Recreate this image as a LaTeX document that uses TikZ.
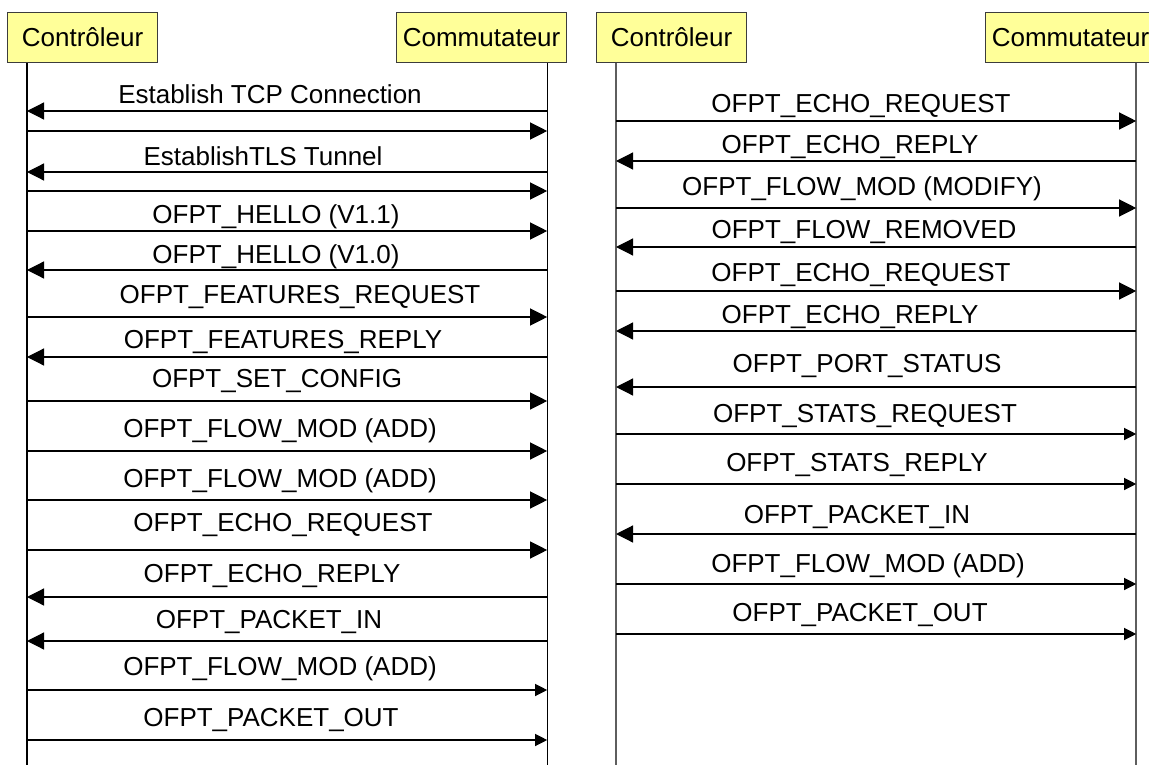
\documentclass[tikz,border=0pt]{standalone}
\usepackage{fontspec}
\setmainfont{Liberation Sans}
\usetikzlibrary{arrows.meta,positioning,calc}
\definecolor{SeqYellow}{HTML}{FFFF99}
\definecolor{SeqBorder}{HTML}{3C3C3C}
\definecolor{SeqGray}  {HTML}{5E5E5E}

\tikzset{
  actor/.style={draw=SeqBorder,fill=SeqYellow,line width=1.2pt,minimum height=50pt,
    inner sep=0pt,anchor=north west,font=\fontsize{26}{30}\selectfont},
  lifeline/.style={line width=1.3pt},
  msg/.style={line width=1.2pt},
  msgtxt/.style={font=\fontsize{26}{30}\selectfont,inner sep=0pt,anchor=base},
  bigtip/.style={-{Triangle[length=17pt,width=17pt]}},
  smalltip/.style={-{Triangle[length=12pt,width=12pt]}},
}

\begin{document}
\begin{tikzpicture}[x=1pt,y=-1pt]
    \useasboundingbox (0,0) rectangle (1149,765);
    % participants
    \node[actor,minimum width=150pt] (ctrlA) at (7,12) {Contrôleur};
    \node[actor,minimum width=170pt] (switchA) at (396,12) {Commutateur};
    \node[actor,minimum width=150pt] (ctrlB) at (596,12) {Contrôleur};
    \node[actor,minimum width=170pt] (switchB) at (985,12) {Commutateur};
    % lifelines
    \coordinate (ctA) at ([xshift=20pt]ctrlA.south west);
    \coordinate (swA) at ([xshift=-20pt]switchA.south east);
    \coordinate (ctB) at ([xshift=20pt]ctrlB.south west);
    \coordinate (swB) at ([xshift=-20pt]switchB.south east);
    \coordinate (ctAend) at (ctA |- 0,765);
    \coordinate (swAend) at (swA |- 0,765);
    \coordinate (ctBend) at (ctB |- 0,765);
    \coordinate (swBend) at (swB |- 0,765);
    \draw[lifeline] (ctA) -- (ctAend);
    \draw[lifeline] (swA) -- (swAend);
    \draw[lifeline,SeqGray,line width=1.8pt] (ctB) -- (ctBend);
    \draw[lifeline,SeqGray,line width=1.8pt] (swB) -- (swBend);
    % first exchange
    \foreach \y/\ly/\lx/\src/\dst/\tip/\lbl in {
      111/95/270/swA/ctA/bigtip/Establish TCP Connection,
      131/0/0/ctA/swA/bigtip/{},
      172/157/263/swA/ctA/bigtip/EstablishTLS Tunnel,
      191/0/0/ctA/swA/bigtip/{},
      231/215/276/ctA/swA/bigtip/OFPT\_HELLO (V1.1),
      270/255/276/swA/ctA/bigtip/OFPT\_HELLO (V1.0),
      317/295/300/ctA/swA/bigtip/OFPT\_FEATURES\_REQUEST,
      357/340/283/swA/ctA/bigtip/OFPT\_FEATURES\_REPLY,
      401/379/277/ctA/swA/bigtip/OFPT\_SET\_CONFIG,
      451/429/280/ctA/swA/bigtip/OFPT\_FLOW\_MOD (ADD),
      500/479/280/ctA/swA/bigtip/OFPT\_FLOW\_MOD (ADD),
      550/523/283/ctA/swA/bigtip/OFPT\_ECHO\_REQUEST,
      597/574/272/swA/ctA/bigtip/OFPT\_ECHO\_REPLY,
      641/620/269/swA/ctA/bigtip/OFPT\_PACKET\_IN,
      690/667/280/ctA/swA/smalltip/OFPT\_FLOW\_MOD (ADD),
      740/718/271/ctA/swA/smalltip/OFPT\_PACKET\_OUT%
    }{
      \draw[msg,\tip] (\src |- 0,\y) -- (\dst |- 0,\y);
      \node[msgtxt] at (\lx,\ly+8.5) {\lbl};
    }
    % second exchange
    \foreach \y/\ly/\lx/\src/\dst/\tip/\lbl in {
      121/104/861/ctB/swB/bigtip/OFPT\_ECHO\_REQUEST,
      161/145/850/swB/ctB/bigtip/OFPT\_ECHO\_REPLY,
      208/187/862/ctB/swB/bigtip/OFPT\_FLOW\_MOD (MODIFY),
      247/230/864/swB/ctB/bigtip/OFPT\_FLOW\_REMOVED,
      291/273/861/ctB/swB/bigtip/OFPT\_ECHO\_REQUEST,
      331/315/850/swB/ctB/bigtip/OFPT\_ECHO\_REPLY,
      387/364/867/swB/ctB/bigtip/OFPT\_PORT\_STATUS,
      434/414/865/ctB/swB/smalltip/OFPT\_STATS\_REQUEST,
      484/463/857/ctB/swB/smalltip/OFPT\_STATS\_REPLY,
      534/515/857/swB/ctB/bigtip/OFPT\_PACKET\_IN,
      584/564/868/ctB/swB/smalltip/OFPT\_FLOW\_MOD (ADD),
      634/613/860/ctB/swB/smalltip/OFPT\_PACKET\_OUT%
    }{
      \draw[msg,\tip] (\src |- 0,\y) -- (\dst |- 0,\y);
      \node[msgtxt] at (\lx,\ly+8.5) {\lbl};
    }
\end{tikzpicture}
\end{document}
